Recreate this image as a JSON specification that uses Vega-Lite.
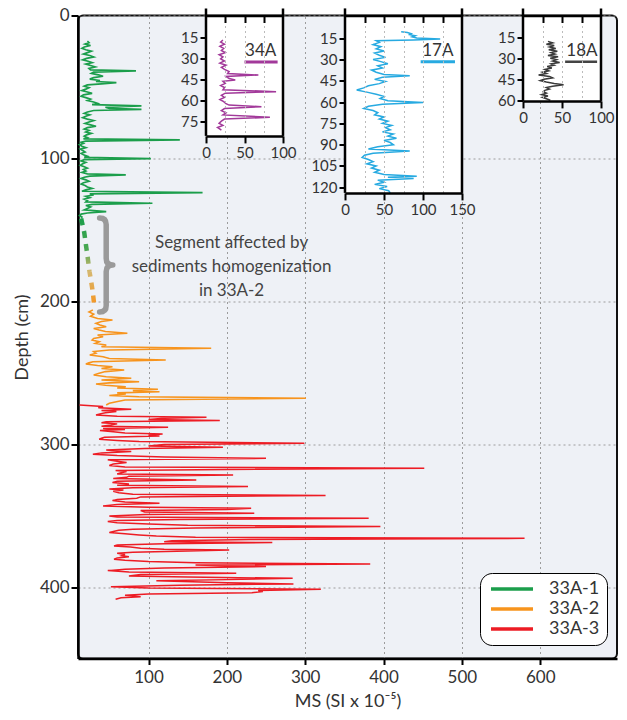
{
"$schema": "https://vega.github.io/schema/vega-lite/v6.json",
"width": 539, "height": 643,
"autosize": "none",
"padding": {"left": 78, "top": 15.5, "right": 10, "bottom": 61.5},
"background": "white",
"data": {"values": [{}]},
"datasets": {
"g": [{"d":18,"v":22},{"d":19,"v":24},{"d":20,"v":19},{"d":21,"v":26},{"d":22,"v":18},{"d":23,"v":15},{"d":24,"v":20},{"d":25,"v":27},{"d":26,"v":22},{"d":27,"v":17},{"d":28,"v":25},{"d":29,"v":30},{"d":30,"v":21},{"d":31,"v":16},{"d":32,"v":23},{"d":33,"v":28},{"d":34,"v":20},{"d":35,"v":26},{"d":36,"v":32},{"d":37,"v":24},{"d":38,"v":26},{"d":38.8,"v":84},{"d":39.6,"v":30},{"d":40.5,"v":27},{"d":41.5,"v":36},{"d":42.5,"v":42},{"d":43.5,"v":30},{"d":44.5,"v":25},{"d":45.5,"v":38},{"d":46.2,"v":33},{"d":47,"v":59},{"d":47.8,"v":40},{"d":48.6,"v":22},{"d":49.5,"v":18},{"d":50.5,"v":24},{"d":51.5,"v":20},{"d":52.5,"v":15},{"d":53.5,"v":22},{"d":54.5,"v":28},{"d":55.5,"v":17},{"d":56.5,"v":14},{"d":57.5,"v":20},{"d":58.5,"v":26},{"d":59.5,"v":22},{"d":60.5,"v":30},{"d":61.5,"v":35},{"d":62.4,"v":28},{"d":63.3,"v":91},{"d":64.2,"v":45},{"d":65,"v":50},{"d":65.7,"v":91},{"d":66.5,"v":30},{"d":67.5,"v":22},{"d":68.5,"v":18},{"d":69.5,"v":25},{"d":70.5,"v":20},{"d":71.5,"v":16},{"d":72.5,"v":22},{"d":73.5,"v":30},{"d":74.5,"v":24},{"d":75.5,"v":19},{"d":76.5,"v":26},{"d":77.5,"v":33},{"d":78.5,"v":22},{"d":79.5,"v":18},{"d":80.5,"v":24},{"d":81.5,"v":20},{"d":82.5,"v":27},{"d":83.5,"v":21},{"d":84.5,"v":18},{"d":85.5,"v":22},{"d":86.3,"v":17},{"d":87.1,"v":140},{"d":87.9,"v":20},{"d":88.7,"v":14},{"d":89.5,"v":17},{"d":90.5,"v":12},{"d":91.5,"v":15},{"d":92.5,"v":20},{"d":93.5,"v":13},{"d":94.5,"v":16},{"d":95.5,"v":19},{"d":96.5,"v":14},{"d":97.5,"v":17},{"d":98.5,"v":22},{"d":99.3,"v":18},{"d":100.1,"v":103},{"d":100.9,"v":18},{"d":101.8,"v":14},{"d":102.8,"v":20},{"d":103.8,"v":16},{"d":104.8,"v":13},{"d":105.8,"v":18},{"d":106.8,"v":22},{"d":107.8,"v":17},{"d":108.8,"v":20},{"d":109.8,"v":15},{"d":110.8,"v":22},{"d":111.6,"v":71},{"d":112.4,"v":25},{"d":113.2,"v":18},{"d":114,"v":14},{"d":115,"v":20},{"d":116,"v":24},{"d":117,"v":17},{"d":118,"v":14},{"d":119,"v":19},{"d":120,"v":22},{"d":121,"v":28},{"d":122,"v":20},{"d":123,"v":15},{"d":124,"v":169},{"d":124.8,"v":25},{"d":125.6,"v":30},{"d":126.5,"v":20},{"d":127.5,"v":25},{"d":128.5,"v":18},{"d":129.5,"v":22},{"d":130.5,"v":20},{"d":131.4,"v":105},{"d":132.2,"v":28},{"d":133,"v":20},{"d":134,"v":26},{"d":135,"v":22},{"d":136,"v":18},{"d":137.3,"v":46},{"d":138.2,"v":22},{"d":139,"v":14},{"d":140,"v":12},{"d":141,"v":15},{"d":142,"v":14}],
"o": [{"d":206,"v":29},{"d":207.5,"v":24},{"d":209,"v":30},{"d":210.5,"v":26},{"d":212,"v":35},{"d":213.1,"v":54},{"d":214.2,"v":40},{"d":215.4,"v":33},{"d":216.6,"v":38},{"d":217.8,"v":46},{"d":219,"v":30},{"d":220.1,"v":37},{"d":221.2,"v":45},{"d":222.4,"v":73},{"d":223.6,"v":35},{"d":224.8,"v":42},{"d":226,"v":30},{"d":227.2,"v":28},{"d":228.3,"v":37},{"d":229.5,"v":32},{"d":230.6,"v":46},{"d":231.8,"v":40},{"d":232.9,"v":180},{"d":234.1,"v":50},{"d":235.2,"v":30},{"d":236.4,"v":33},{"d":237.6,"v":25},{"d":238.8,"v":42},{"d":240,"v":50},{"d":241.1,"v":122},{"d":242.3,"v":29},{"d":243.1,"v":24},{"d":243.9,"v":20},{"d":244.9,"v":35},{"d":245.8,"v":54},{"d":247,"v":40},{"d":248.1,"v":69},{"d":249.2,"v":45},{"d":250.4,"v":37},{"d":251.6,"v":30},{"d":252.8,"v":46},{"d":253.9,"v":78},{"d":255.1,"v":40},{"d":256.3,"v":88},{"d":257.1,"v":50},{"d":257.9,"v":33},{"d":258.8,"v":45},{"d":259.8,"v":71},{"d":260.7,"v":60},{"d":261.6,"v":112},{"d":262.5,"v":80},{"d":263.3,"v":114},{"d":264.1,"v":60},{"d":264.9,"v":71},{"d":265.9,"v":50},{"d":266.8,"v":88},{"d":267.9,"v":301},{"d":269.1,"v":70},{"d":270.3,"v":59},{"d":271.4,"v":50},{"d":272.6,"v":46}],
"r": [{"d":272.6,"v":12},{"d":273.7,"v":42},{"d":274.6,"v":36},{"d":275.6,"v":78},{"d":276.4,"v":40},{"d":277.2,"v":59},{"d":278,"v":45},{"d":278.8,"v":38},{"d":279.6,"v":33},{"d":280.5,"v":60},{"d":281.2,"v":174},{"d":281.9,"v":120},{"d":282.7,"v":100},{"d":283.5,"v":191},{"d":284.3,"v":46},{"d":285,"v":40},{"d":285.8,"v":60},{"d":286.6,"v":52},{"d":287.4,"v":40},{"d":288.2,"v":125},{"d":289,"v":42},{"d":289.7,"v":70},{"d":290.5,"v":38},{"d":291.3,"v":55},{"d":292.1,"v":70},{"d":292.9,"v":118},{"d":293.6,"v":100},{"d":294.3,"v":114},{"d":295.1,"v":44},{"d":295.9,"v":40},{"d":296.6,"v":37},{"d":297.4,"v":60},{"d":298.2,"v":88},{"d":299.4,"v":299},{"d":300.3,"v":120},{"d":301.2,"v":100},{"d":302.2,"v":195},{"d":303.1,"v":95},{"d":304.1,"v":46},{"d":304.7,"v":60},{"d":305.2,"v":78},{"d":306.1,"v":40},{"d":307.1,"v":29},{"d":308,"v":60},{"d":309,"v":120},{"d":309.9,"v":250},{"d":310.9,"v":48},{"d":311.9,"v":60},{"d":312.9,"v":72},{"d":313.9,"v":55},{"d":314.9,"v":50},{"d":315.9,"v":70},{"d":316.9,"v":452},{"d":317.7,"v":200},{"d":318.5,"v":58},{"d":319.2,"v":72},{"d":320,"v":65},{"d":320.8,"v":60},{"d":321.6,"v":208},{"d":322.4,"v":75},{"d":323.2,"v":72},{"d":324.1,"v":55},{"d":325.1,"v":161},{"d":326,"v":60},{"d":326.9,"v":54},{"d":327.9,"v":75},{"d":328.8,"v":60},{"d":329.7,"v":227},{"d":330.5,"v":80},{"d":331.3,"v":50},{"d":332.1,"v":68},{"d":333,"v":55},{"d":334,"v":62},{"d":335,"v":80},{"d":336,"v":326},{"d":336.9,"v":90},{"d":337.9,"v":85},{"d":338.7,"v":60},{"d":339.5,"v":54},{"d":340.5,"v":70},{"d":341.4,"v":114},{"d":342.3,"v":60},{"d":343.3,"v":42},{"d":344.1,"v":100},{"d":344.9,"v":231},{"d":345.7,"v":200},{"d":346.5,"v":90},{"d":347.4,"v":95},{"d":348.4,"v":235},{"d":349.3,"v":97},{"d":350.2,"v":50},{"d":351,"v":60},{"d":351.9,"v":381},{"d":352.7,"v":140},{"d":353.5,"v":60},{"d":354.2,"v":48},{"d":355,"v":60},{"d":355.9,"v":100},{"d":356.8,"v":150},{"d":357.7,"v":396},{"d":358.6,"v":160},{"d":359.5,"v":80},{"d":360.3,"v":62},{"d":361.1,"v":55},{"d":361.9,"v":50},{"d":362.7,"v":70},{"d":363.5,"v":88},{"d":364.3,"v":110},{"d":365.1,"v":160},{"d":365.9,"v":580},{"d":366.8,"v":230},{"d":367.6,"v":130},{"d":368.3,"v":120},{"d":368.9,"v":258},{"d":369.7,"v":120},{"d":370.5,"v":60},{"d":371.2,"v":56},{"d":372,"v":77},{"d":372.8,"v":90},{"d":373.5,"v":120},{"d":374,"v":203},{"d":374.8,"v":150},{"d":375.6,"v":80},{"d":376.4,"v":60},{"d":377.2,"v":70},{"d":378,"v":66},{"d":378.8,"v":75},{"d":379.6,"v":60},{"d":380.5,"v":56},{"d":381.3,"v":70},{"d":382.2,"v":100},{"d":383,"v":160},{"d":383.8,"v":383},{"d":384.6,"v":160},{"d":385.7,"v":250},{"d":386.6,"v":120},{"d":387.5,"v":70},{"d":388.5,"v":48},{"d":389.4,"v":75},{"d":390.4,"v":212},{"d":391.3,"v":90},{"d":392.2,"v":75},{"d":393,"v":150},{"d":393.9,"v":284},{"d":394.8,"v":200},{"d":395.6,"v":110},{"d":396.2,"v":156},{"d":397,"v":200},{"d":397.8,"v":285},{"d":398.7,"v":140},{"d":399.7,"v":52},{"d":400.6,"v":100},{"d":401.6,"v":320},{"d":402.4,"v":240},{"d":403.2,"v":246},{"d":404,"v":232},{"d":404.8,"v":100},{"d":405.7,"v":70},{"d":406.7,"v":90},{"d":407.5,"v":65},{"d":408.5,"v":58}],
"dash": [{"d":142,"v":14},{"d":152,"v":18},{"d":162,"v":20.5},{"d":170,"v":22.5},{"d":179,"v":24.6},{"d":186,"v":26.8},{"d":194,"v":29},{"d":204,"v":31}],
"a34": [{"d":16.5,"v":22},{"d":18,"v":19},{"d":19.5,"v":24},{"d":21,"v":18},{"d":22.5,"v":23},{"d":24,"v":20},{"d":25.5,"v":25},{"d":27,"v":17},{"d":28.5,"v":22},{"d":30,"v":19},{"d":31.5,"v":24},{"d":33,"v":18},{"d":34.5,"v":26},{"d":36,"v":20},{"d":37.5,"v":24},{"d":39,"v":30},{"d":40.5,"v":28},{"d":41.5,"v":68},{"d":42.5,"v":26},{"d":44,"v":30},{"d":45,"v":38},{"d":46,"v":22},{"d":47.5,"v":25},{"d":49,"v":19},{"d":50.5,"v":24},{"d":52,"v":22},{"d":53.4,"v":91},{"d":54.5,"v":25},{"d":56,"v":20},{"d":57.5,"v":24},{"d":59,"v":18},{"d":60.5,"v":23},{"d":62,"v":26},{"d":63,"v":30},{"d":64.1,"v":72},{"d":65.5,"v":24},{"d":67,"v":20},{"d":68.5,"v":26},{"d":70,"v":22},{"d":71.7,"v":83},{"d":73,"v":24},{"d":74.5,"v":20},{"d":76,"v":17},{"d":77.5,"v":22},{"d":79,"v":15},{"d":80.8,"v":20}],
"a17": [{"d":10.5,"v":72},{"d":11,"v":80},{"d":11.8,"v":85},{"d":12.5,"v":83},{"d":13.2,"v":90},{"d":14,"v":86},{"d":14.8,"v":92},{"d":15.6,"v":122},{"d":16.3,"v":88},{"d":16.8,"v":40},{"d":18,"v":44},{"d":19.5,"v":36},{"d":21,"v":46},{"d":22.5,"v":40},{"d":24,"v":50},{"d":25.5,"v":38},{"d":27,"v":44},{"d":28.5,"v":52},{"d":30,"v":36},{"d":31.5,"v":46},{"d":33,"v":55},{"d":34.5,"v":42},{"d":36,"v":48},{"d":37.5,"v":34},{"d":39,"v":40},{"d":40.5,"v":50},{"d":41.5,"v":83},{"d":42.5,"v":48},{"d":44,"v":38},{"d":45.5,"v":52},{"d":47,"v":44},{"d":48.5,"v":30},{"d":50,"v":24},{"d":51.5,"v":15},{"d":53,"v":28},{"d":54.5,"v":40},{"d":56,"v":50},{"d":57.5,"v":45},{"d":59,"v":55},{"d":60.3,"v":100},{"d":61.5,"v":48},{"d":63,"v":30},{"d":64.5,"v":24},{"d":66,"v":36},{"d":67.5,"v":42},{"d":69,"v":38},{"d":70.5,"v":50},{"d":72,"v":44},{"d":73.5,"v":55},{"d":75,"v":48},{"d":76.5,"v":60},{"d":78,"v":52},{"d":79.5,"v":58},{"d":81,"v":48},{"d":82.5,"v":62},{"d":84,"v":55},{"d":85.5,"v":66},{"d":87,"v":50},{"d":88.5,"v":58},{"d":90,"v":62},{"d":91.5,"v":42},{"d":93,"v":30},{"d":94.5,"v":83},{"d":96,"v":36},{"d":97.5,"v":25},{"d":99,"v":22},{"d":100.5,"v":30},{"d":102,"v":36},{"d":103.5,"v":28},{"d":105,"v":40},{"d":106.5,"v":34},{"d":108,"v":44},{"d":109.5,"v":38},{"d":111,"v":50},{"d":112.2,"v":92},{"d":113,"v":55},{"d":113.8,"v":88},{"d":115,"v":42},{"d":116.5,"v":50},{"d":118,"v":38},{"d":119.5,"v":54},{"d":121,"v":44},{"d":122.5,"v":56},{"d":124,"v":58}],
"a18": [{"d":17.5,"v":32},{"d":18.5,"v":38},{"d":19.5,"v":30},{"d":20.5,"v":40},{"d":21.5,"v":34},{"d":22.5,"v":42},{"d":23.5,"v":33},{"d":24.5,"v":44},{"d":25.5,"v":36},{"d":26.5,"v":41},{"d":27.5,"v":32},{"d":28.5,"v":45},{"d":29.5,"v":35},{"d":30.5,"v":43},{"d":31.5,"v":38},{"d":32.5,"v":47},{"d":33.5,"v":36},{"d":34.5,"v":40},{"d":35.5,"v":31},{"d":36.5,"v":37},{"d":37.5,"v":28},{"d":38.5,"v":33},{"d":39.5,"v":25},{"d":40.5,"v":30},{"d":41.5,"v":20},{"d":42.5,"v":34},{"d":43.5,"v":38},{"d":44.5,"v":27},{"d":45.5,"v":22},{"d":46.5,"v":30},{"d":47.5,"v":40},{"d":48.5,"v":52},{"d":49.5,"v":38},{"d":50.5,"v":30},{"d":51.5,"v":34},{"d":52.5,"v":28},{"d":53.5,"v":26},{"d":54.5,"v":30},{"d":55.5,"v":24},{"d":56.5,"v":32},{"d":57.5,"v":25},{"d":58.5,"v":30},{"d":59.5,"v":35}]
},
"layer": [
{
"layer": [
{"data": {"name": "g"}, "mark": {"type": "line", "strokeWidth": 1.7},
 "encoding": {
  "x": {"field": "v", "type": "quantitative", "scale": {"domain": [10, 698], "nice": false, "zero": false},
   "axis": {"orient": "bottom", "values": [100, 200, 300, 400, 500, 600], "grid": true, "gridDash": [2, 3], "gridColor": "#9c9c9c", "domainWidth": 2.5, "tickSize": 6, "tickWidth": 2, "labelFontSize": 17, "labelPadding": 5, "labelFlush": false, "title": "MS (SI x 10⁻⁵)", "titleFontSize": 18, "titleFontWeight": "normal", "titlePadding": 7}},
  "y": {"field": "d", "type": "quantitative", "scale": {"domain": [0, 450], "reverse": true, "nice": false, "zero": false},
   "axis": {"orient": "left", "values": [0, 100, 200, 300, 400], "grid": true, "gridDash": [2, 3], "gridColor": "#9c9c9c", "domainWidth": 2.5, "tickSize": 7, "tickWidth": 2, "labelFontSize": 17, "labelPadding": 2, "title": "Depth (cm)", "titleFontSize": 18, "titleFontWeight": "normal", "titlePadding": 8}},
  "order": {"field": "d", "type": "quantitative"},
  "color": {"datum": "33A-1", "scale": {"domain": ["33A-1", "33A-2", "33A-3"], "range": ["#1b9e4b", "#f7941d", "#ed1c24"]},
   "legend": {"title": null, "orient": "none", "legendX": 402, "legendY": 557.5, "padding": 7, "cornerRadius": 12, "strokeColor": "black", "fillColor": "white", "symbolType": "M -3 0 L 3 0", "symbolSize": 196, "symbolStrokeWidth": 3.5, "symbolOffset": 16, "labelOffset": 28, "labelFontSize": 18, "labelColor": "#333", "rowPadding": 2}}
 }},
{"data": {"name": "o"}, "mark": {"type": "line", "strokeWidth": 1.6},
 "encoding": {
  "x": {"field": "v", "type": "quantitative", "scale": {"domain": [10, 698], "nice": false, "zero": false}, "axis": null},
  "y": {"field": "d", "type": "quantitative", "scale": {"domain": [0, 450], "reverse": true, "nice": false, "zero": false}, "axis": null},
  "order": {"field": "d", "type": "quantitative"},
  "color": {"datum": "33A-2", "legend": null}
 }},
{"data": {"name": "r"}, "mark": {"type": "line", "strokeWidth": 1.5},
 "encoding": {
  "x": {"field": "v", "type": "quantitative", "scale": {"domain": [10, 698], "nice": false, "zero": false}, "axis": null},
  "y": {"field": "d", "type": "quantitative", "scale": {"domain": [0, 450], "reverse": true, "nice": false, "zero": false}, "axis": null},
  "order": {"field": "d", "type": "quantitative"},
  "color": {"datum": "33A-3", "legend": null}
 }},
{"data": {"name": "dash"}, "mark": {"type": "line", "strokeWidth": 4.5, "strokeDash": [7, 6],
  "stroke": {"gradient": "linear", "x1": 0, "y1": 0, "x2": 0, "y2": 1, "stops": [{"offset": 0, "color": "#1b9e4b"}, {"offset": 0.35, "color": "#4aa852"}, {"offset": 0.6, "color": "#d6b870"}, {"offset": 1, "color": "#f7941d"}]}},
 "encoding": {
  "x": {"field": "v", "type": "quantitative", "scale": {"domain": [10, 698], "nice": false, "zero": false}, "axis": null},
  "y": {"field": "d", "type": "quantitative", "scale": {"domain": [0, 450], "reverse": true, "nice": false, "zero": false}, "axis": null},
  "order": {"field": "d", "type": "quantitative"}
 }},
{"mark": {"type": "point", "shape": "M -0.14 -1 Q 0 -1 0 -0.86 L 0 -0.14 Q 0 0 0.14 0 Q 0 0 0 0.14 L 0 0.86 Q 0 1 -0.14 1", "filled": false, "stroke": "#9a9a9a", "strokeWidth": 5.5, "strokeCap": "round", "strokeJoin": "round", "size": 8836, "opacity": 1},
 "encoding": {
  "x": {"datum": 46, "type": "quantitative", "scale": {"domain": [10, 698], "nice": false, "zero": false}, "axis": null},
  "y": {"datum": 174.6, "type": "quantitative", "scale": {"domain": [0, 450], "reverse": true, "nice": false, "zero": false}, "axis": null}
 }},
{"mark": {"type": "text", "text": ["Segment affected by", "sediments homogenization", "in 33A-2"], "lineHeight": 24, "align": "center", "baseline": "middle", "fontSize": 17, "color": "#444"},
 "encoding": {
  "x": {"datum": 206, "type": "quantitative", "scale": {"domain": [10, 698], "nice": false, "zero": false}, "axis": null},
  "y": {"datum": 159.2, "type": "quantitative", "scale": {"domain": [0, 450], "reverse": true, "nice": false, "zero": false}, "axis": null}
 }}
],
"resolve": {"axis": {"x": "independent", "y": "independent"}}
},
{
"layer": [
{"mark": {"type": "rect", "fill": "white"},
 "encoding": {
  "x": {"datum": 0, "type": "quantitative", "scale": {"domain": [0, 100], "range": [128, 205], "nice": false, "zero": false},
   "axis": {"orient": "top", "offset": 0, "values": [25, 50, 75], "grid": true, "gridDash": [2, 3], "gridColor": "#bbbbbb", "labels": false, "ticks": true, "tickSize": -7, "tickWidth": 2, "tickColor": "black", "domain": true, "domainWidth": 2.5, "domainColor": "black", "title": null, "zindex": 1}},
  "x2": {"datum": 100},
  "y": {"datum": -1, "type": "quantitative", "scale": {"domain": [-1, 85], "range": [0, 120.4], "nice": false, "zero": false},
   "axis": {"orient": "left", "offset": -128, "values": [15, 30, 45, 60, 75], "grid": false, "domain": false, "ticks": true, "tickSize": 6, "tickWidth": 2, "tickColor": "black", "labelFontSize": 15, "labelPadding": 2, "title": null, "zindex": 1}},
  "y2": {"datum": 85}
 }},
{"data": {"name": "a34"}, "mark": {"type": "line", "color": "#a2399a", "strokeWidth": 1.5},
 "encoding": {
  "x": {"field": "v", "type": "quantitative", "scale": {"domain": [0, 100], "range": [128, 205], "nice": false, "zero": false},
   "axis": {"orient": "bottom", "offset": -522.6, "values": [0, 50, 100], "grid": false, "domain": true, "domainWidth": 2.5, "domainColor": "black", "ticks": true, "tickSize": 7, "tickWidth": 2, "tickColor": "black", "labelFontSize": 15, "labelPadding": 3, "labelFlush": false, "labelOverlap": false, "title": null, "zindex": 1}},
  "y": {"field": "d", "type": "quantitative", "scale": {"domain": [-1, 85], "range": [0, 120.4], "nice": false, "zero": false}, "axis": null},
  "order": {"field": "d", "type": "quantitative"}
 }},
{"mark": {"type": "rule", "color": "black", "strokeWidth": 2.5},
 "encoding": {"x": {"datum": 0, "type": "quantitative", "axis": null}, "y": {"datum": -6, "type": "quantitative", "axis": null}, "y2": {"datum": 85}}},
{"mark": {"type": "rule", "color": "black", "strokeWidth": 2.5},
 "encoding": {"x": {"datum": 100, "type": "quantitative", "axis": null}, "y": {"datum": -6, "type": "quantitative", "axis": null}, "y2": {"datum": 85}}},
{"mark": {"type": "rule", "color": "#a2399a", "strokeWidth": 3},
 "encoding": {"x": {"datum": 50, "type": "quantitative", "axis": null}, "x2": {"datum": 93}, "y": {"datum": 32.2, "type": "quantitative", "axis": null}}},
{"mark": {"type": "text", "text": "34A", "fontSize": 17, "color": "#333", "align": "center", "baseline": "middle"},
 "encoding": {"x": {"datum": 71, "type": "quantitative", "axis": null}, "y": {"datum": 24.5, "type": "quantitative", "axis": null}}}
],
"resolve": {"axis": {"x": "independent", "y": "independent"}}
},
{
"layer": [
{"mark": {"type": "rect", "fill": "white"},
 "encoding": {
  "x": {"datum": 0, "type": "quantitative", "scale": {"domain": [0, 150], "range": [267, 384], "nice": false, "zero": false},
   "axis": {"orient": "top", "offset": 0, "values": [25, 50, 75, 100, 125], "grid": true, "gridDash": [2, 3], "gridColor": "#bbbbbb", "labels": false, "ticks": true, "tickSize": -7, "tickWidth": 2, "tickColor": "black", "domain": true, "domainWidth": 2.5, "domainColor": "black", "title": null, "zindex": 1}},
  "x2": {"datum": 150},
  "y": {"datum": -1, "type": "quantitative", "scale": {"domain": [-1, 124], "range": [0, 177.4], "nice": false, "zero": false},
   "axis": {"orient": "left", "offset": -267, "values": [15, 30, 45, 60, 75, 90, 105, 120], "grid": false, "domain": false, "ticks": true, "tickSize": 6, "tickWidth": 2, "tickColor": "black", "labelFontSize": 15, "labelPadding": 2, "title": null, "zindex": 1}},
  "y2": {"datum": 124}
 }},
{"data": {"name": "a17"}, "mark": {"type": "line", "color": "#27aae1", "strokeWidth": 1.5},
 "encoding": {
  "x": {"field": "v", "type": "quantitative", "scale": {"domain": [0, 150], "range": [267, 384], "nice": false, "zero": false},
   "axis": {"orient": "bottom", "offset": -465.6, "values": [0, 50, 100, 150], "grid": false, "domain": true, "domainWidth": 2.5, "domainColor": "black", "ticks": true, "tickSize": 7, "tickWidth": 2, "tickColor": "black", "labelFontSize": 15, "labelPadding": 3, "labelFlush": false, "labelOverlap": false, "title": null, "zindex": 1}},
  "y": {"field": "d", "type": "quantitative", "scale": {"domain": [-1, 124], "range": [0, 177.4], "nice": false, "zero": false}, "axis": null},
  "order": {"field": "d", "type": "quantitative"}
 }},
{"mark": {"type": "rule", "color": "black", "strokeWidth": 2.5},
 "encoding": {"x": {"datum": 0, "type": "quantitative", "axis": null}, "y": {"datum": -6, "type": "quantitative", "axis": null}, "y2": {"datum": 124}}},
{"mark": {"type": "rule", "color": "black", "strokeWidth": 2.5},
 "encoding": {"x": {"datum": 150, "type": "quantitative", "axis": null}, "y": {"datum": -6, "type": "quantitative", "axis": null}, "y2": {"datum": 124}}},
{"mark": {"type": "rule", "color": "#27aae1", "strokeWidth": 3},
 "encoding": {"x": {"datum": 97, "type": "quantitative", "axis": null}, "x2": {"datum": 141}, "y": {"datum": 31.6, "type": "quantitative", "axis": null}}},
{"mark": {"type": "text", "text": "17A", "fontSize": 17, "color": "#333", "align": "center", "baseline": "middle"},
 "encoding": {"x": {"datum": 119, "type": "quantitative", "axis": null}, "y": {"datum": 24, "type": "quantitative", "axis": null}}}
],
"resolve": {"axis": {"x": "independent", "y": "independent"}}
},
{
"layer": [
{"mark": {"type": "rect", "fill": "white"},
 "encoding": {
  "x": {"datum": 0, "type": "quantitative", "scale": {"domain": [0, 100], "range": [445, 523], "nice": false, "zero": false},
   "axis": {"orient": "top", "offset": 0, "values": [25, 50, 75], "grid": true, "gridDash": [2, 3], "gridColor": "#bbbbbb", "labels": false, "ticks": true, "tickSize": -7, "tickWidth": 2, "tickColor": "black", "domain": true, "domainWidth": 2.5, "domainColor": "black", "title": null, "zindex": 1}},
  "x2": {"datum": 100},
  "y": {"datum": -1, "type": "quantitative", "scale": {"domain": [-1, 60], "range": [0, 85.4], "nice": false, "zero": false},
   "axis": {"orient": "left", "offset": -445, "values": [15, 30, 45, 60], "grid": false, "domain": false, "ticks": true, "tickSize": 6, "tickWidth": 2, "tickColor": "black", "labelFontSize": 15, "labelPadding": 2, "title": null, "zindex": 1}},
  "y2": {"datum": 60}
 }},
{"data": {"name": "a18"}, "mark": {"type": "line", "color": "#3a3a3a", "strokeWidth": 1.5},
 "encoding": {
  "x": {"field": "v", "type": "quantitative", "scale": {"domain": [0, 100], "range": [445, 523], "nice": false, "zero": false},
   "axis": {"orient": "bottom", "offset": -557.6, "values": [0, 50, 100], "grid": false, "domain": true, "domainWidth": 2.5, "domainColor": "black", "ticks": true, "tickSize": 7, "tickWidth": 2, "tickColor": "black", "labelFontSize": 15, "labelPadding": 3, "labelFlush": false, "labelOverlap": false, "title": null, "zindex": 1}},
  "y": {"field": "d", "type": "quantitative", "scale": {"domain": [-1, 60], "range": [0, 85.4], "nice": false, "zero": false}, "axis": null},
  "order": {"field": "d", "type": "quantitative"}
 }},
{"mark": {"type": "rule", "color": "black", "strokeWidth": 2.5},
 "encoding": {"x": {"datum": 0, "type": "quantitative", "axis": null}, "y": {"datum": -6, "type": "quantitative", "axis": null}, "y2": {"datum": 60}}},
{"mark": {"type": "rule", "color": "black", "strokeWidth": 2.5},
 "encoding": {"x": {"datum": 100, "type": "quantitative", "axis": null}, "y": {"datum": -6, "type": "quantitative", "axis": null}, "y2": {"datum": 60}}},
{"mark": {"type": "rule", "color": "#444444", "strokeWidth": 2.5},
 "encoding": {"x": {"datum": 54, "type": "quantitative", "axis": null}, "x2": {"datum": 95}, "y": {"datum": 32, "type": "quantitative", "axis": null}}},
{"mark": {"type": "text", "text": "18A", "fontSize": 17, "color": "#333", "align": "center", "baseline": "middle"},
 "encoding": {"x": {"datum": 75.5, "type": "quantitative", "axis": null}, "y": {"datum": 24.5, "type": "quantitative", "axis": null}}}
],
"resolve": {"axis": {"x": "independent", "y": "independent"}}
}
],
"resolve": {"scale": {"x": "independent", "y": "independent"}, "axis": {"x": "independent", "y": "independent"}},
"config": {
 "font": "Lato",
 "view": {"fill": "#eef1f6", "stroke": "#111111", "strokeWidth": 2, "cornerRadius": 5},
 "axis": {"labelFont": "Lato", "titleFont": "Lato", "labelColor": "#333333", "titleColor": "#333333", "domainColor": "black", "tickColor": "black"},
 "text": {"font": "Lato"}
}
}
